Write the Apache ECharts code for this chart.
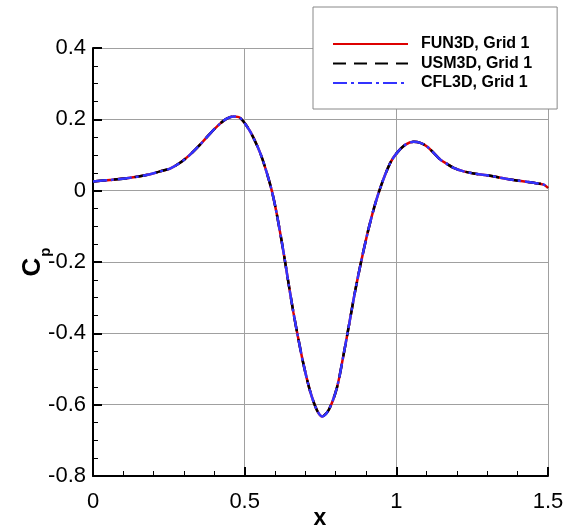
<!DOCTYPE html>
<html>
<head>
<meta charset="utf-8">
<script src="https://cdn.jsdelivr.net/npm/echarts@6/dist/echarts.min.js"></script>
<style>html,body{margin:0;padding:0;background:#fff;}#c{width:563px;height:529px;}</style>
</head>
<body>
<div id="c"></div>
<script>
var xs = [0, 0.056, 0.122, 0.188, 0.221, 0.254, 0.287, 0.320, 0.353, 0.386, 0.419, 0.441, 0.463, 0.485, 0.518, 0.551, 0.573, 0.590, 0.606, 0.628, 0.645, 0.661, 0.678, 0.694, 0.716, 0.738, 0.755, 0.777, 0.804, 0.826, 0.846, 0.865, 0.887, 0.909, 0.931, 0.953, 0.980, 1.002, 1.030, 1.057, 1.079, 1.101, 1.123, 1.145, 1.167, 1.189, 1.222, 1.255, 1.299, 1.387, 1.453, 1.486, 1.5];
var cpFun3d = [0.026, 0.030, 0.036, 0.046, 0.054, 0.062, 0.078, 0.101, 0.129, 0.160, 0.188, 0.202, 0.208, 0.204, 0.166, 0.106, 0.050, -0.002, -0.066, -0.172, -0.262, -0.343, -0.420, -0.487, -0.563, -0.615, -0.633, -0.615, -0.553, -0.460, -0.367, -0.278, -0.187, -0.105, -0.035, 0.022, 0.078, 0.106, 0.129, 0.137, 0.134, 0.124, 0.106, 0.087, 0.075, 0.064, 0.054, 0.048, 0.043, 0.030, 0.022, 0.017, 0.008];
var cpUsm3d = [0.026, 0.030, 0.036, 0.046, 0.054, 0.062, 0.078, 0.101, 0.129, 0.160, 0.188, 0.202, 0.208, 0.204, 0.166, 0.106, 0.050, -0.002, -0.066, -0.172, -0.262, -0.343, -0.420, -0.487, -0.563, -0.615, -0.633, -0.615, -0.553, -0.460, -0.367, -0.278, -0.187, -0.105, -0.035, 0.022, 0.078, 0.106, 0.129, 0.137, 0.134, 0.124, 0.106, 0.087, 0.075, 0.064, 0.054, 0.048, 0.043, 0.030, 0.022, 0.017, 0.008];
var cpCfl3d = [0.026, 0.030, 0.036, 0.046, 0.054, 0.062, 0.078, 0.101, 0.129, 0.160, 0.188, 0.202, 0.208, 0.204, 0.166, 0.106, 0.050, -0.002, -0.066, -0.172, -0.262, -0.343, -0.420, -0.487, -0.563, -0.615, -0.633, -0.615, -0.553, -0.460, -0.367, -0.278, -0.187, -0.105, -0.035, 0.022, 0.078, 0.106, 0.129, 0.137, 0.134, 0.124, 0.106, 0.087, 0.075, 0.064, 0.054, 0.048, 0.043, 0.030, 0.022, 0.017, 0.008];
var seriesNames = ['FUN3D, Grid 1', 'USM3D, Grid 1', 'CFL3D, Grid 1'];

function pairs(ys) { return xs.map(function (x, i) { return [x, ys[i]]; }); }

var chart = echarts.init(document.getElementById('c'), null, {renderer: 'canvas'});
var font = 'Liberation Sans, Arial, Helvetica, sans-serif';
var gridColor = '#a0a0a0';
chart.setOption({
  animation: false,
  backgroundColor: '#fff',
  grid: {left: 93, right: 15, top: 48, bottom: 53, containLabel: false, outerBoundsMode: 'none'},
  legend: {
    orient: 'vertical', left: 313, top: 7,
    padding: [29, 25, 18, 19],
    itemWidth: 75, itemHeight: 16, itemGap: 3.5,
    backgroundColor: '#fff', borderColor: '#888', borderWidth: 1,
    itemStyle: {opacity: 0},
    data: seriesNames,
    textStyle: {fontFamily: font, fontWeight: 'bold', fontSize: 16, color: '#000', padding: [0, 0, 0, 8]}
  },
  graphic: [
    {type: 'text', x: 320, y: 519, style: {
      text: 'x', align: 'center', verticalAlign: 'middle',
      font: 'bold 23px ' + font, fill: '#000'}},
    {type: 'text', x: 33, y: 262, rotation: Math.PI / 2, style: {
      text: '{c|C}{p|p}', align: 'center', verticalAlign: 'middle',
      rich: {
        c: {fontFamily: font, fontWeight: 'bold', fontSize: 26, fill: '#000', color: '#000'},
        p: {fontFamily: font, fontWeight: 'bold', fontSize: 15, fill: '#000', color: '#000', verticalAlign: 'bottom', padding: [0, 0, -7, 1]}
      }}}
  ],
  xAxis: {
    type: 'value', min: 0, max: 1.5, interval: 0.5,
    axisLine: {show: true, onZero: false, lineStyle: {color: '#000', width: 2}},
    axisTick: {show: true, inside: true, length: 9, lineStyle: {color: '#000', width: 2}},
    minorTick: {show: true, splitNumber: 5, length: 5, lineStyle: {color: '#000', width: 1}},
    axisLabel: {fontFamily: font, fontSize: 22, color: '#000', margin: 15},
    splitLine: {show: true, lineStyle: {color: gridColor, width: 1}}
  },
  yAxis: {
    type: 'value', min: -0.8, max: 0.4, interval: 0.2,
    axisLine: {show: true, onZero: false, lineStyle: {color: '#000', width: 2}},
    axisTick: {show: true, inside: true, length: 9, lineStyle: {color: '#000', width: 2}},
    minorTick: {show: true, splitNumber: 4, length: 5, lineStyle: {color: '#000', width: 1}},
    axisLabel: {fontFamily: font, fontSize: 22, color: '#000', margin: 7,
      formatter: function (v) { return String(Math.round(v * 10) / 10); }},
    splitLine: {show: true, lineStyle: {color: gridColor, width: 1}}
  },
  series: [
    {name: seriesNames[0], type: 'line', data: pairs(cpFun3d), symbol: 'none', smooth: 0.3,
      lineStyle: {color: '#dd0000', width: 2.5, type: 'solid'}, itemStyle: {color: '#dd0000'}, z: 2},
    {name: seriesNames[1], type: 'line', data: pairs(cpUsm3d), symbol: 'none', smooth: 0.3,
      lineStyle: {color: '#000', width: 2.5, type: [13, 8]}, itemStyle: {color: '#000'}, z: 3},
    {name: seriesNames[2], type: 'line', data: pairs(cpCfl3d), symbol: 'none', smooth: 0.3,
      lineStyle: {color: '#3333ff', width: 2.5, type: [14, 4, 3, 4]}, itemStyle: {color: '#3333ff'}, z: 4}
  ]
});
</script>
</body>
</html>
